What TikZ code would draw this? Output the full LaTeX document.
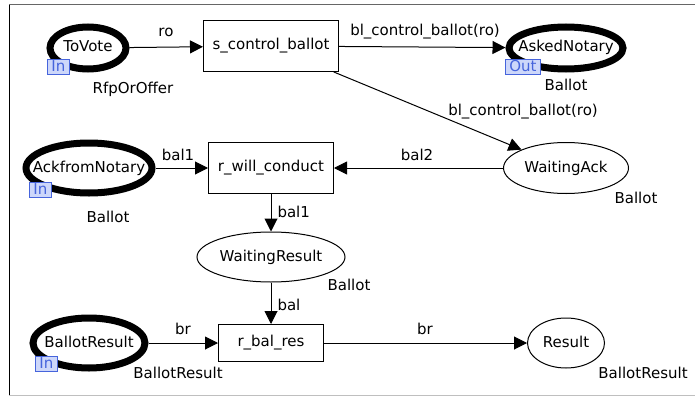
\documentclass[tikz,border=0pt]{standalone}
\usepackage{fontspec}
\setmainfont{DejaVu Sans}
\usetikzlibrary{shapes.geometric,arrows.meta}

\definecolor{portblue}{RGB}{70,100,220}
\definecolor{portfill}{RGB}{205,215,250}

% place text takes no room, so the ellipse keeps its given size
\newcommand{\pname}[1]{\makebox[0pt]{#1}}

\tikzset{
  placenode/.style={draw, ellipse, inner sep=0pt,
    text height=11pt, text depth=3pt},
  portplace/.style={placenode, line width=7pt},
  transnode/.style={draw, rectangle, inner sep=0pt},
  arcline/.style={-{Triangle[length=13pt,width=13pt]}},
  porttag/.style={draw=portblue, fill=portfill, text=portblue,
    line width=0.8pt, inner xsep=4pt, inner ysep=1.5pt,
    text height=11pt, text depth=1pt, anchor=north west},
}

\begin{document}
\begin{tikzpicture}[x=1pt, y=-1pt, line width=1pt,
    font=\fontsize{15}{18}\selectfont]

  \useasboundingbox (0,0) rectangle (695,396);

  %Frame
  \draw [black!60] (9,5) -- (695,5);
  \draw [black!25] (9,395) -- (695,395);
  \draw [black]    (9,5) -- (9,395);

  %Places
  \node [portplace, minimum width=76pt, minimum height=42pt]
    (ToVote) at (88,48) {\pname{ToVote}};
  \node [portplace, minimum width=114pt, minimum height=42pt]
    (AskedNotary) at (566,48) {\pname{AskedNotary}};
  \node [portplace, minimum width=126pt, minimum height=50pt]
    (AckfromNotary) at (89,168) {\pname{AckfromNotary}};
  \node [portplace, minimum width=112pt, minimum height=50pt]
    (BallotResult) at (89,343) {\pname{BallotResult}};
  \node [placenode, minimum width=125pt, minimum height=51pt]
    (WaitingAck) at (566,168) {\pname{WaitingAck}};
  \node [placenode, minimum width=148pt, minimum height=50pt]
    (WaitingResult) at (271,257) {\pname{WaitingResult}};
  \node [placenode, minimum width=77pt, minimum height=50pt]
    (Result) at (566,343) {\pname{Result}};

  %Transitions
  \node [transnode, minimum width=135pt, minimum height=51pt]
    (s_control_ballot) at (271,46) {s\_control\_ballot};
  \node [transnode, minimum width=125pt, minimum height=51pt]
    (r_will_conduct) at (271,168) {r\_will\_conduct};
  \node [transnode, minimum width=105pt, minimum height=37pt]
    (r_bal_res) at (271,343) {r\_bal\_res};

  %Port tags
  \node [porttag] (ToVoteIn) at (47,59) {In};
  \node [porttag] (AskedNotaryOut) at (505,59) {Out};
  \node [porttag] (AckfromNotaryIn) at (29,182) {In};
  \node [porttag] (BallotResultIn) at (35,356) {In};

  %Colour sets
  \node (ToVoteType) at (133,89) {RfpOrOffer};
  \node (AskedNotaryType) at (566,85) {Ballot};
  \node (AckfromNotaryType) at (108,217) {Ballot};
  \node (WaitingAckType) at (636,198) {Ballot};
  \node (WaitingResultType) at (349,285) {Ballot};
  \node (BallotResultType) at (178,373) {BallotResult};
  \node (ResultType) at (643,373) {BallotResult};

  %Arcs
  \draw [arcline] (ToVote) -- (s_control_ballot);
  \draw [arcline] (s_control_ballot) -- (AskedNotary);
  \draw [arcline] (s_control_ballot) -- (WaitingAck);
  \draw [arcline] (WaitingAck) -- (r_will_conduct);
  \draw [arcline] (AckfromNotary) -- (r_will_conduct);
  \draw [arcline] (r_will_conduct) -- (WaitingResult);
  \draw [arcline] (WaitingResult) -- (r_bal_res);
  \draw [arcline] (BallotResult) -- (r_bal_res);
  \draw [arcline] (r_bal_res) -- (Result);

  %Arc inscriptions
  \node (roLabel) at (166,32) {ro};
  \node (askLabel) at (425,32) {bl\_control\_ballot(ro)};
  \node (waitLabel) at (523,112) {bl\_control\_ballot(ro)};
  \node (balTwoLabel) at (417,155) {bal2};
  \node (balOneLabel) at (178,155) {bal1};
  \node [anchor=west, inner sep=0pt] (balOneDownLabel) at (277,212) {bal1};
  \node [anchor=west, inner sep=0pt] (balLabel) at (277,305) {bal};
  \node (brLeftLabel) at (183,329) {br};
  \node (brRightLabel) at (425,329) {br};

\end{tikzpicture}
\end{document}
